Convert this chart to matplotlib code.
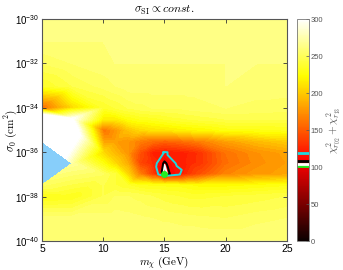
import numpy as np
import matplotlib
matplotlib.use('Agg')
import matplotlib.pyplot as plt
import matplotlib.tri as mtri
from matplotlib.colors import Normalize
from matplotlib.cm import ScalarMappable

# ---------------- data ----------------
mass = [5, 7.5, 10, 11, 12, 13, 14, 15, 16, 17, 18, 20, 22.5, 25]            # GeV
log_sigma = [-40, -39, -38, -37.5, -37, -36.5, -36, -35.5, -35, -34.5, -34,
             -33, -32, -31, -30]                                              # log10(cm^2)
N = np.nan    # grid point not sampled
X = np.inf    # sampled, but no valid fit (excluded)
chi2 = [
    # 5    7.5  10   11   12   13   14   15     16   17   18   20   22.5 25
    [260, 260, 260, 260, 260, 260, 260, 260,   260, 260, 260, 260, 260, 260],  # -40
    [258, 258, 258, 258, 257, 256, 255, 254,   253, 252, 251, 250, 253, 255],  # -39
    [228, 230, 245, 250, 250, 248, 245, 242,   240, 238, 238, 240, 242, 245],  # -38
    [250, N,   245, 240, 235, 230, 228, 228,   228, 225, 222, 222, 225, 228],  # -37.5
    [N,   N,   250, 240, 205, 165, 137, 101.5, 115, 132, 145, 168, 178, 182],  # -37
    [X,   268, 225, 205, 185, 140, 128, 105,   121, 126, 132, 158, 172, 180],  # -36.5
    [N,   N,   205, 190, 175, 145, 123, 119,   121, 125, 132, 160, 174, 182],  # -36
    [400, N,   180, 180, 175, 165, 158, 152,   155, 160, 166, 180, 192, 200],  # -35.5
    [450, 330, 160, 175, 195, 205, 210, 212,   215, 218, 220, 226, 228, 230],  # -35
    [380, 300, 215, 215, 225, 230, 232, 235,   238, 240, 242, 245, 245, 245],  # -34.5
    [155, 205, 235, 240, 245, 248, 250, 250,   250, 252, 253, 255, 253, 252],  # -34
    [235, 245, 252, 255, 258, 258, 258, 258,   258, 258, 258, 260, 258, 258],  # -33
    [250, 255, 258, 260, 260, 260, 260, 260,   260, 260, 260, 260, 260, 260],  # -32
    [260, 260, 260, 260, 260, 260, 260, 260,   260, 260, 260, 260, 260, 260],  # -31
    [262, 262, 262, 262, 262, 262, 262, 262,   262, 262, 262, 262, 262, 262],  # -30
]
contour_levels = [104.5, 107.5, 119.5]
contour_colors = ['white', 'black', '#1ed8e0']
x_ticks = [5, 10, 15, 20, 25]
y_ticks = [-40, -38, -36, -34, -32, -30]
cbar_ticks = [0, 50, 100, 150, 200, 250, 300]

# ---------------- style ----------------
plt.rcParams['mathtext.fontset'] = 'cm'
plt.rcParams['font.family'] = ['Liberation Sans', 'DejaVu Sans']

fig = plt.figure(figsize=(3.43, 2.70), dpi=100)
ax = fig.add_axes([0.1224, 0.1074, 0.7143, 0.8222])
ax.set_facecolor('#87CEFA')

M, L = np.meshgrid(mass, log_sigma)
Z = np.array(chi2, dtype=float)
keep = ~np.isnan(Z)
xs, ys, zs = M[keep], L[keep], Z[keep]
tri = mtri.Triangulation(xs, ys)
bad = ~np.isfinite(zs)
tri.set_mask(bad[tri.triangles].any(axis=1))
zs = np.where(bad, 0.0, zs)

cmap = plt.get_cmap('hot').copy()
cmap.set_over('white')
norm = Normalize(0, 300)
fill_levels = np.arange(0, 301, 5)
cs = ax.tricontourf(tri, zs, levels=fill_levels, cmap=cmap, norm=norm, extend='max')
cs.set_edgecolor('face')
cs.set_linewidth(0.4)

ax.tricontour(tri, zs, levels=contour_levels, colors=contour_colors, linewidths=1.4)

ib = np.argmin(np.where(bad, np.inf, zs))
ax.plot(xs[ib], ys[ib], 'o', color='#22ee22', ms=4, mec='#22ee22', zorder=5)

ax.set_xlim(5, 25)
ax.set_ylim(-40, -30)
ax.set_xticks(x_ticks)
ax.set_xticklabels([str(v) for v in x_ticks], fontsize=7.5)
ax.set_yticks(y_ticks)
ax.set_yticklabels([r'$\mathregular{10^{%d}}$' % v for v in y_ticks], fontsize=7)
ax.tick_params(direction='in', length=3, width=0.6, top=True, right=True, colors='#333333',
               labelcolor='black', pad=2)
for s in ax.spines.values():
    s.set_color('#555555')
    s.set_linewidth(0.8)

ax.set_title(r'$\sigma_{\rm SI} \propto const.$', fontsize=8.5, pad=4)
ax.set_xlabel(r'$m_\chi\ ({\rm GeV})$', fontsize=8, labelpad=0)
ax.set_ylabel(r'$\sigma_0\ ({\rm cm}^2)$', fontsize=8)
ax.yaxis.set_label_coords(-0.095, 0.5)

cax = fig.add_axes([0.866, 0.1074, 0.035, 0.8222])
sm = ScalarMappable(norm=norm, cmap=cmap)
cb = fig.colorbar(sm, cax=cax, ticks=cbar_ticks)
cb.add_lines([zs[ib]] + contour_levels, ['#22ee22'] + contour_colors, [2, 2, 2, 2])
cb.ax.tick_params(labelsize=5.5, length=2, width=0.5, direction='in', colors='#555555', pad=1)
cb.outline.set_edgecolor('#777777')
cb.outline.set_linewidth(0.6)
cb.set_label(r'$\chi^2_{r_{02}} + \chi^2_{r_{13}}$', fontsize=8, color='#555555', labelpad=1)

fig.savefig('out.png', dpi=100)
